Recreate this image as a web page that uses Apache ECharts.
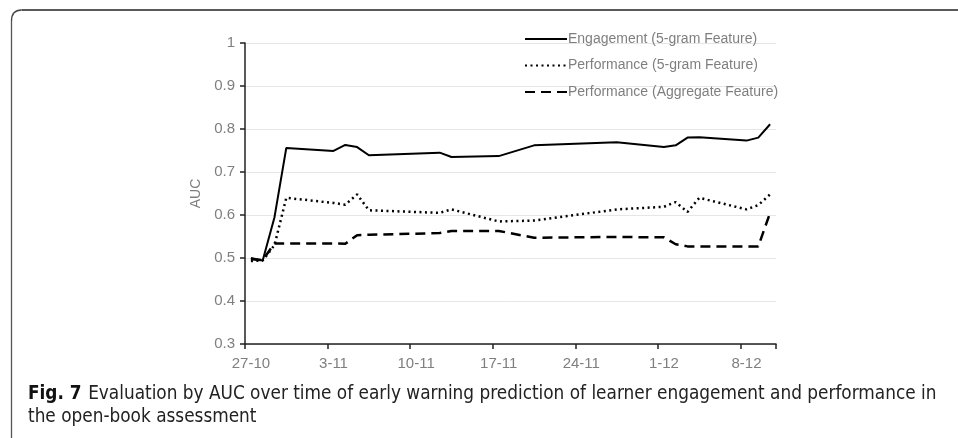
<!DOCTYPE html>
<html>
<head>
<meta charset="utf-8">
<script src="https://cdn.jsdelivr.net/npm/echarts@6/dist/echarts.min.js"></script>
<style>
html,body{margin:0;padding:0;background:#fff;}
#chart{width:958px;height:438px;}
</style>
</head>
<body>
<div id="chart"></div>
<script>
// ---- Data ----
const categories = [
  '27-10','28-10','29-10','30-10','31-10','1-11','2-11',
  '3-11','4-11','5-11','6-11','7-11','8-11','9-11',
  '10-11','11-11','12-11','13-11','14-11','15-11','16-11',
  '17-11','18-11','19-11','20-11','21-11','22-11','23-11',
  '24-11','25-11','26-11','27-11','28-11','29-11','30-11',
  '1-12','2-12','3-12','4-12','5-12','6-12','7-12',
  '8-12','9-12','10-12'
];
// days (index into categories) where a value was measured
const pointDays = [0,1,2,3,7,8,9,10,16,17,21,24,31,35,36,37,38,42,43,44];
const engagement5gram = [0.500,0.494,0.595,0.756,0.749,0.763,0.758,0.739,0.745,0.735,0.737,0.762,0.769,0.758,0.762,0.780,0.781,0.773,0.780,0.811];
const performance5gram = [0.493,0.494,0.530,0.640,0.628,0.624,0.648,0.611,0.605,0.613,0.585,0.587,0.613,0.619,0.630,0.607,0.640,0.613,0.623,0.648];
const performanceAggregate = [0.497,0.495,0.534,0.534,0.534,0.533,0.553,0.554,0.558,0.563,0.563,0.547,0.549,0.548,0.532,0.527,0.527,0.527,0.527,0.605];
const seriesNames = ['Engagement (5-gram Feature)','Performance (5-gram Feature)','Performance (Aggregate Feature)'];
const yTicks = {min:0.3, max:1, interval:0.1};
const captionBold = 'Fig. 7';
const captionLine1 = 'Evaluation by AUC over time of early warning prediction of learner engagement and performance in';
const captionLine2 = 'the open-book assessment';

// ---- Build ----
function pairs(vals){ return pointDays.map((d,i)=>[categories[d], vals[i]]); }

const capFamily = '"Liberation Sans Narrow","DejaVu Sans Condensed","Liberation Sans",sans-serif';
const ctx = document.createElement('canvas').getContext('2d');
function measure(text, weight, size){ ctx.font = weight + ' ' + size + 'px ' + capFamily; return ctx.measureText(text).width; }
const capGap = 0.35; // in em
const totalAt100 = measure(captionBold,'bold',100) + capGap*100 + measure(captionLine1,'normal',100);
const capSize = 100 * 909 / totalAt100;
const boldW = measure(captionBold,'bold',capSize);
const line1X = 28 + boldW + capGap*capSize;

const labelColor = '#7f7f7f';
const labelFont = '"Liberation Sans",Arial,sans-serif';

const chart = echarts.init(document.getElementById('chart'));
chart.setOption({
  animation:false,
  backgroundColor:'#fff',
  grid:{left:245, right:182, top:43, bottom:94, containLabel:false},
  legend:{
    orient:'vertical', left:519, top:27,
    itemWidth:42, itemHeight:14, itemGap:12.5,
    itemStyle:{opacity:0},
    textStyle:{color:labelColor, fontSize:14, fontFamily:labelFont, padding:[0,0,0,-4]},
    data:seriesNames
  },
  xAxis:{
    type:'category', data:categories, boundaryGap:true,
    axisLine:{lineStyle:{color:'#222', width:1.5}},
    axisTick:{show:true, interval:6, length:5, lineStyle:{color:'#222', width:1.5}},
    axisLabel:{interval:6, color:labelColor, fontSize:15, fontFamily:labelFont, margin:12},
    splitLine:{show:false}
  },
  yAxis:{
    type:'value', min:yTicks.min, max:yTicks.max, interval:yTicks.interval,
    name:'AUC', nameLocation:'middle', nameGap:41, nameRotate:90,
    nameTextStyle:{color:labelColor, fontSize:14, fontFamily:labelFont},
    axisLine:{show:true, lineStyle:{color:'#222', width:1.5}},
    axisTick:{show:true, length:5, lineStyle:{color:'#222', width:1.5}},
    axisLabel:{color:labelColor, fontSize:15, fontFamily:labelFont, margin:10,
      formatter:v=>String(Math.round(v*10)/10)},
    splitLine:{lineStyle:{color:'#e6e6e6', width:1}}
  },
  series:[
    {name:seriesNames[0], type:'line', data:pairs(engagement5gram), symbol:'none',
      lineStyle:{color:'#000', width:2, type:'solid'}, itemStyle:{color:'#000'}},
    {name:seriesNames[1], type:'line', data:pairs(performance5gram), symbol:'none',
      lineStyle:{color:'#000', width:2.5, type:[2,3.5]}, itemStyle:{color:'#000'}},
    {name:seriesNames[2], type:'line', data:pairs(performanceAggregate), symbol:'none',
      lineStyle:{color:'#000', width:2.5, type:[10,6]}, itemStyle:{color:'#000'}}
  ],
  graphic:[
    {type:'line', shape:{x1:21.5, y1:10, x2:958, y2:10}, style:{stroke:'#222', lineWidth:1.3}},
    {type:'bezierCurve', shape:{x1:11.5, y1:21, x2:21.5, y2:10, cpx1:11.5, cpy1:10}, style:{fill:null, stroke:'#444', lineWidth:1.3}},
    {type:'line', shape:{x1:11.5, y1:21, x2:11.5, y2:438}, style:{stroke:'#555', lineWidth:1.3}},
    {type:'text', left:28, top:385, style:{text:captionBold, font:'bold '+capSize.toFixed(2)+'px '+capFamily, fill:'#111'}},
    {type:'text', left:line1X, top:385, style:{text:captionLine1, font:capSize.toFixed(2)+'px '+capFamily, fill:'#222'}},
    {type:'text', left:28, top:408, style:{text:captionLine2, font:capSize.toFixed(2)+'px '+capFamily, fill:'#222'}}
  ]
});
</script>
</body>
</html>
